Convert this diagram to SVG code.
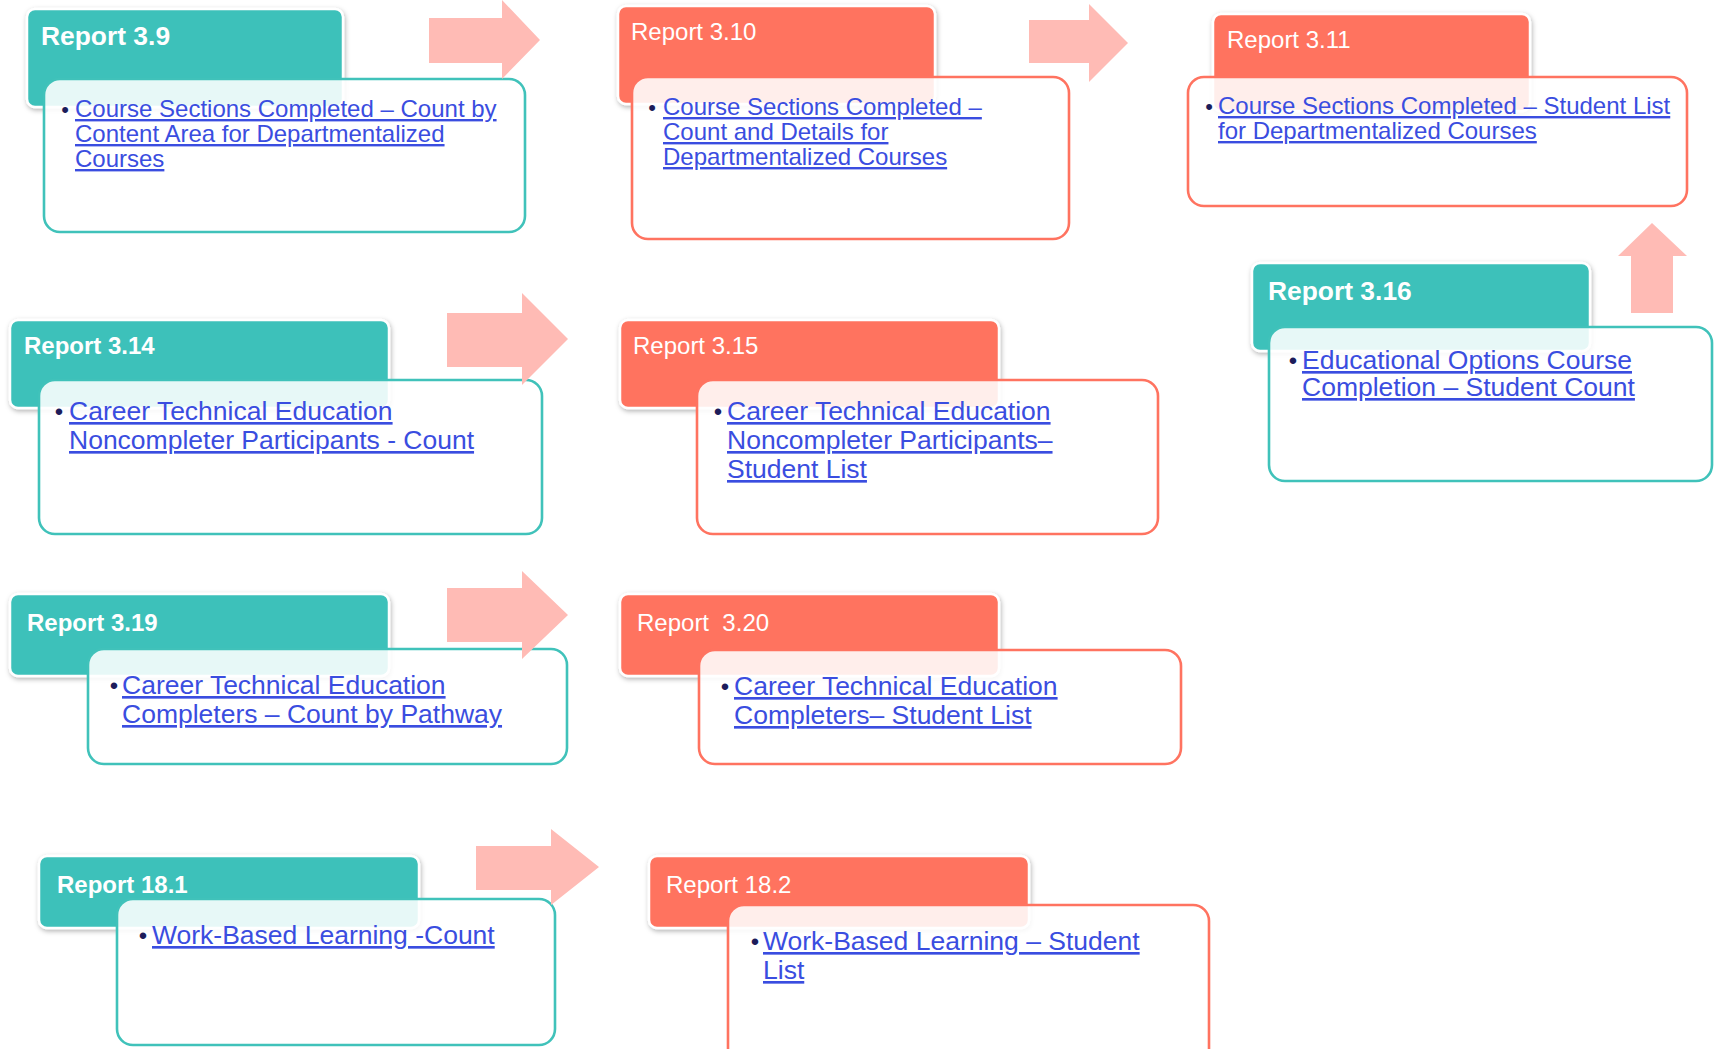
<svg xmlns="http://www.w3.org/2000/svg" width="1721" height="1049" viewBox="0 0 1721 1049">
<style>
.hdT{fill:#3EC1BA;stroke:#ffffff;stroke-width:2.5;filter:url(#sh)}
.hdC{fill:#FF735F;stroke:#ffffff;stroke-width:2.5;filter:url(#sh)}
.dtT{fill:#ffffff;fill-opacity:0.88;stroke:#40C2BA;stroke-width:2.6}
.dtC{fill:#ffffff;fill-opacity:0.88;stroke:#FF7360;stroke-width:2.6}
.hb{font-family:"Liberation Sans",Arial,sans-serif;font-weight:bold;fill:#ffffff;font-size:24px}
.hr{font-family:"Liberation Sans",Arial,sans-serif;fill:#ffffff;font-size:24px}
.lk{font-family:"Liberation Sans",Arial,sans-serif;fill:#3A4DE0;text-decoration:underline}
.s1{font-size:24px}
.s2{font-size:26.5px}
.bl{font-family:"Liberation Sans",Arial,sans-serif;fill:#1C1C5A;text-anchor:middle}
.ar{fill:#FFBBB5}
</style>
<defs>
<filter id="sh" x="-10%" y="-20%" width="125%" height="150%">
<feDropShadow dx="1" dy="2" stdDeviation="2.5" flood-color="#000000" flood-opacity="0.3"/>
</filter>
</defs>
<rect width="1721" height="1049" fill="#ffffff"/>

<g id="node-report-3-9">
<rect class="hdT" x="27" y="9" width="316" height="98" rx="8"/>
<text class="hb" x="41" y="45" style="font-size:26.4px">Report 3.9</text>
<rect class="dtT" x="44" y="79" width="481" height="153" rx="16"/>
<text class="bl" x="65" y="117" font-size="22">•</text>
<text class="lk s1" x="75" y="117">Course Sections Completed – Count by</text>
<text class="lk s1" x="75" y="142">Content Area for Departmentalized</text>
<text class="lk s1" x="75" y="167">Courses</text>
</g>

<g id="node-report-3-10">
<rect class="hdC" x="618" y="6" width="317" height="98" rx="8"/>
<text class="hr" x="631" y="40">Report 3.10</text>
<rect class="dtC" x="632" y="77" width="437" height="162" rx="16"/>
<text class="bl" x="652" y="115" font-size="22">•</text>
<text class="lk s1" x="663" y="115">Course Sections Completed –</text>
<text class="lk s1" x="663" y="140">Count and Details for</text>
<text class="lk s1" x="663" y="165">Departmentalized Courses</text>
</g>

<g id="node-report-3-11">
<rect class="hdC" x="1213" y="14" width="317" height="97" rx="8"/>
<text class="hr" x="1227" y="48">Report 3.11</text>
<rect class="dtC" x="1188" y="77" width="499" height="129" rx="16"/>
<text class="bl" x="1209" y="114" font-size="22">•</text>
<text class="lk s1" x="1218" y="114">Course Sections Completed – Student List</text>
<text class="lk s1" x="1218" y="139">for Departmentalized Courses</text>
</g>

<g id="node-report-3-14">
<rect class="hdT" x="10" y="320" width="379" height="88" rx="8"/>
<text class="hb" x="24" y="354">Report 3.14</text>
<rect class="dtT" x="39" y="380" width="503" height="154" rx="16"/>
<text class="bl" x="59" y="420" font-size="24">•</text>
<text class="lk s2" x="69" y="420">Career Technical Education</text>
<text class="lk s2" x="69" y="449">Noncompleter Participants - Count</text>
</g>

<g id="node-report-3-15">
<rect class="hdC" x="620" y="320" width="379" height="88" rx="8"/>
<text class="hr" x="633" y="354">Report 3.15</text>
<rect class="dtC" x="697" y="380" width="461" height="154" rx="16"/>
<text class="bl" x="718" y="420" font-size="24">•</text>
<text class="lk s2" x="727" y="420">Career Technical Education</text>
<text class="lk s2" x="727" y="449">Noncompleter Participants–</text>
<text class="lk s2" x="727" y="478">Student List</text>
</g>

<g id="node-report-3-16">
<rect class="hdT" x="1252" y="263" width="338" height="88" rx="8"/>
<text class="hb" x="1268" y="300" style="font-size:26.4px">Report 3.16</text>
<rect class="dtT" x="1269" y="327" width="443" height="154" rx="16"/>
<text class="bl" x="1293" y="369" font-size="24">•</text>
<text class="lk s2" x="1302" y="369">Educational Options Course</text>
<text class="lk s2" x="1302" y="396">Completion – Student Count</text>
</g>

<g id="node-report-3-19">
<rect class="hdT" x="10" y="594" width="379" height="82" rx="8"/>
<text class="hb" x="27" y="631">Report 3.19</text>
<rect class="dtT" x="88" y="649" width="479" height="115" rx="16"/>
<text class="bl" x="114" y="694" font-size="24">•</text>
<text class="lk s2" x="122" y="694">Career Technical Education</text>
<text class="lk s2" x="122" y="723">Completers – Count by Pathway</text>
</g>

<g id="node-report-3-20">
<rect class="hdC" x="620" y="594" width="379" height="82" rx="8"/>
<text class="hr" x="637" y="631" xml:space="preserve">Report  3.20</text>
<rect class="dtC" x="699" y="650" width="482" height="114" rx="16"/>
<text class="bl" x="725" y="695" font-size="24">•</text>
<text class="lk s2" x="734" y="695">Career Technical Education</text>
<text class="lk s2" x="734" y="724">Completers– Student List</text>
</g>

<g id="node-report-18-1">
<rect class="hdT" x="39" y="856" width="380" height="72" rx="8"/>
<text class="hb" x="57" y="893">Report 18.1</text>
<rect class="dtT" x="117" y="899" width="438" height="146" rx="16"/>
<text class="bl" x="143" y="944" font-size="24">•</text>
<text class="lk s2" x="152" y="944">Work-Based Learning -Count</text>
</g>

<g id="node-report-18-2">
<rect class="hdC" x="649" y="856" width="380" height="72" rx="8"/>
<text class="hr" x="666" y="893">Report 18.2</text>
<rect class="dtC" x="728" y="905" width="481" height="170" rx="16"/>
<text class="bl" x="755" y="950" font-size="24">•</text>
<text class="lk s2" x="763" y="950">Work-Based Learning – Student</text>
<text class="lk s2" x="763" y="979">List</text>
</g>

<g id="connectors">
<path class="ar" d="M429,18 H502 V0 L540,40 L502,79 V63 H429 Z"/>
<path class="ar" d="M1029,20 H1089 V4 L1128,43 L1089,82 V63 H1029 Z"/>
<path class="ar" d="M447,313 H522 V293 L568,339 L522,385 V367 H447 Z"/>
<path class="ar" d="M447,588 H522 V571 L568,615 L522,659 V642 H447 Z"/>
<path class="ar" d="M476,846 H551 V829 L599,867 L551,905 V890 H476 Z"/>
<path class="ar" d="M1631,313 V256 H1618 L1652,223 L1687,256 H1673 V313 Z"/>
</g>
</svg>
